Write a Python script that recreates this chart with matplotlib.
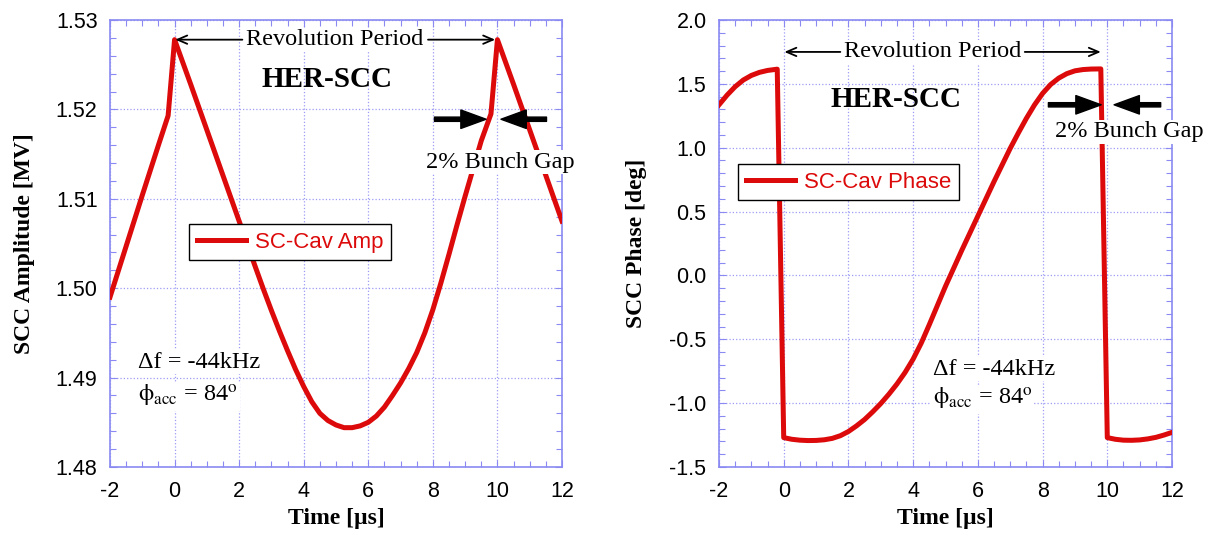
import matplotlib
matplotlib.use('Agg')
import matplotlib.pyplot as plt
from matplotlib.ticker import MultipleLocator, FormatStrFormatter

plt.rcParams['axes.unicode_minus'] = False
plt.rcParams['mathtext.fontset'] = 'stix'
plt.rcParams['font.family'] = ['Liberation Sans', 'DejaVu Sans']

# ---- data ----
time_amp = [-2, -1.5, -1, -0.5, -0.2, 0, 0.5, 1, 1.5, 2, 2.5, 2.75, 3, 3.25, 3.5,
            3.75, 4, 4.25, 4.5, 4.75, 5, 5.25, 5.5, 5.75, 6, 6.25, 6.5, 6.75, 7,
            7.25, 7.5, 7.75, 8, 8.25, 8.5, 8.75, 9, 9.25, 9.5, 9.8, 10, 10.5, 11,
            11.5, 12]
amp_mv = [1.4990, 1.5047, 1.5104, 1.5160, 1.5193, 1.5278, 1.5228, 1.5177, 1.5126,
          1.5075, 1.5024, 1.4999, 1.4975, 1.4952, 1.4930, 1.4909, 1.4890, 1.4873,
          1.4860, 1.4852, 1.4847, 1.4844, 1.4844, 1.4846, 1.4850, 1.4857, 1.4867,
          1.4880, 1.4894, 1.4910, 1.4928, 1.4950, 1.4976, 1.5006, 1.5038, 1.5071,
          1.5103, 1.5134, 1.5165, 1.5195, 1.5278, 1.5228, 1.5177, 1.5126, 1.5075]

time_phase = [-2, -1.75, -1.5, -1.25, -1, -0.75, -0.5, -0.2, 0, 0.25, 0.5, 0.75, 1,
              1.25, 1.5, 1.75, 2, 2.25, 2.5, 2.75, 3, 3.25, 3.5, 3.75, 4, 4.25, 4.5,
              4.75, 5, 5.25, 5.5, 5.75, 6, 6.25, 6.5, 6.75, 7, 7.25, 7.5, 7.75, 8,
              8.25, 8.5, 8.75, 9, 9.25, 9.5, 9.8, 10, 10.25, 10.5, 10.75, 11, 11.25,
              11.5, 11.75, 12]
phase_deg = [1.336, 1.412, 1.478, 1.530, 1.566, 1.590, 1.605, 1.615, -1.270, -1.283,
             -1.290, -1.293, -1.292, -1.287, -1.276, -1.255, -1.222, -1.178, -1.128,
             -1.068, -1.003, -0.930, -0.850, -0.760, -0.655, -0.530, -0.385, -0.235,
             -0.085, 0.055, 0.195, 0.330, 0.465, 0.600, 0.735, 0.865, 0.995, 1.115,
             1.230, 1.335, 1.425, 1.495, 1.545, 1.580, 1.602, 1.612, 1.616, 1.617,
             -1.270, -1.283, -1.290, -1.291, -1.288, -1.280, -1.268, -1.250, -1.229]

x_ticks = [-2, 0, 2, 4, 6, 8, 10, 12]
amp_ticks = [1.48, 1.49, 1.50, 1.51, 1.52, 1.53]
phase_ticks = [-1.5, -1.0, -0.5, 0.0, 0.5, 1.0, 1.5, 2.0]

RED = '#dc0a0a'
FRAME = '#8a8af2'
GRID = '#9c9cf6'
SERIF = 'Liberation Serif'

fig = plt.figure(figsize=(12.12, 5.33), dpi=100)
ax1 = fig.add_axes([110/1212, 66/533, 452/1212, 447/533])
ax2 = fig.add_axes([719/1212, 66/533, 453/1212, 447/533])


def style(ax, yticks, fmt, yminor, ylabel, ylab_x):
    ax.set_xlim(-2, 12)
    ax.set_xticks(x_ticks)
    ax.xaxis.set_minor_locator(MultipleLocator(0.5))
    ax.set_ylim(yticks[0], yticks[-1])
    ax.set_yticks(yticks)
    ax.yaxis.set_major_formatter(FormatStrFormatter(fmt))
    ax.yaxis.set_minor_locator(MultipleLocator(yminor))
    ax.tick_params(which='both', direction='in', top=True, right=True,
                   color=FRAME, labelsize=15.5, labelcolor='black')
    ax.tick_params(axis='y', which='both', pad=9)
    ax.tick_params(axis='x', which='both', pad=10)
    ax.tick_params(which='major', length=5, width=0.8)
    ax.tick_params(which='minor', length=4, width=0.8)
    for s in ax.spines.values():
        s.set_color(FRAME)
        s.set_linewidth(1.2)
    ax.grid(True, which='major', color=GRID, linestyle=':', linewidth=0.9)
    ax.set_axisbelow(True)
    ax.set_xlabel('Time [µs]', fontfamily=SERIF, fontweight='bold', fontsize=17)
    ax.xaxis.set_label_coords(0.5, -0.092)
    ax.set_ylabel(ylabel, fontfamily=SERIF, fontweight='bold', fontsize=17)
    ax.yaxis.set_label_coords(ylab_x, 0.5)


style(ax1, amp_ticks, '%.2f', 0.002, 'SCC Amplitude [MV]', -0.166)
style(ax2, phase_ticks, '%.1f', 0.1, 'SCC Phase [deg]', -0.159)

ax1.plot(time_amp, amp_mv, color=RED, lw=3.6, label='SC-Cav Amp',
         solid_joinstyle='round', zorder=3)
ax2.plot(time_phase, phase_deg, color=RED, lw=3.6, label='SC-Cav Phase',
         solid_joinstyle='round', zorder=3)

for ax, anchor in ((ax1, (0.175, 0.544)), (ax2, (0.042, 0.678))):
    leg = ax.legend(loc='upper left', bbox_to_anchor=anchor, borderaxespad=0,
                    frameon=True, fancybox=False, edgecolor='black', framealpha=1,
                    fontsize=16, handlelength=2.2, handletextpad=0.4,
                    borderpad=0.35)
    leg.get_frame().set_linewidth(1.0)
    leg.set_zorder(5)
    for t in leg.get_texts():
        t.set_color(RED)

wb = dict(facecolor='white', edgecolor='none', pad=1.0)
thin = dict(arrowstyle='->,head_length=0.7,head_width=0.3', lw=1.3,
            color='black', shrinkA=0, shrinkB=0)
thick = dict(arrowstyle='simple,head_length=1.3,head_width=0.95,tail_width=0.22',
             color='black', shrinkA=0, shrinkB=0, mutation_scale=14)

# ---- left panel annotations ----
ax1.text(4.97, 1.5278, 'Revolution Period', fontfamily=SERIF, fontsize=17.5,
         ha='center', va='center', bbox=wb, zorder=6)
ax1.annotate('', xy=(0.02, 1.5278), xytext=(2.1, 1.5278), arrowprops=thin, zorder=6)
ax1.annotate('', xy=(9.93, 1.5278), xytext=(7.85, 1.5278), arrowprops=thin, zorder=6)
ax1.text(4.71, 1.5234, 'HER-SCC', fontfamily=SERIF, fontweight='bold', fontsize=21,
         ha='center', va='center', zorder=6)
ax1.annotate('', xy=(9.65, 1.5189), xytext=(8.05, 1.5189), arrowprops=thick, zorder=6)
ax1.annotate('', xy=(10.11, 1.5189), xytext=(11.52, 1.5189), arrowprops=thick, zorder=6)
ax1.text(10.08, 1.5141, '2% Bunch Gap', fontfamily=SERIF, fontsize=17.5,
         ha='center', va='center', bbox=wb, zorder=6, clip_on=False)
ax1.text(-1.12, 1.4917, 'Δf = -44kHz', fontfamily=SERIF, fontsize=17.5,
         ha='left', va='center', bbox=wb, zorder=6)
ax1.text(-1.12, 1.4879, r'$\mathrm{\phi}_{\mathrm{acc}}$ = 84$^{\mathrm{o}}$',
         fontfamily=SERIF, fontsize=17.5, ha='left', va='center', bbox=wb, zorder=6)

# ---- right panel annotations ----
ax2.text(4.59, 1.75, 'Revolution Period', fontfamily=SERIF, fontsize=17.5,
         ha='center', va='center', bbox=wb, zorder=6)
ax2.annotate('', xy=(0.02, 1.75), xytext=(1.75, 1.75), arrowprops=thin, zorder=6)
ax2.annotate('', xy=(9.8, 1.75), xytext=(7.45, 1.75), arrowprops=thin, zorder=6)
ax2.text(3.48, 1.375, 'HER-SCC', fontfamily=SERIF, fontweight='bold', fontsize=21,
         ha='center', va='center', zorder=6)
ax2.annotate('', xy=(9.81, 1.336), xytext=(8.18, 1.336), arrowprops=thick, zorder=6)
ax2.annotate('', xy=(10.21, 1.336), xytext=(11.65, 1.336), arrowprops=thick, zorder=6)
ax2.text(10.67, 1.125, '2% Bunch Gap', fontfamily=SERIF, fontsize=17.5,
         ha='center', va='center', bbox=wb, zorder=6, clip_on=False)
ax2.text(4.61, -0.734, 'Δf = -44kHz', fontfamily=SERIF, fontsize=17.5,
         ha='left', va='center', bbox=wb, zorder=6)
ax2.text(4.61, -0.969, r'$\mathrm{\phi}_{\mathrm{acc}}$ = 84$^{\mathrm{o}}$',
         fontfamily=SERIF, fontsize=17.5, ha='left', va='center', bbox=wb, zorder=6)

fig.savefig('out.png', dpi=100)
